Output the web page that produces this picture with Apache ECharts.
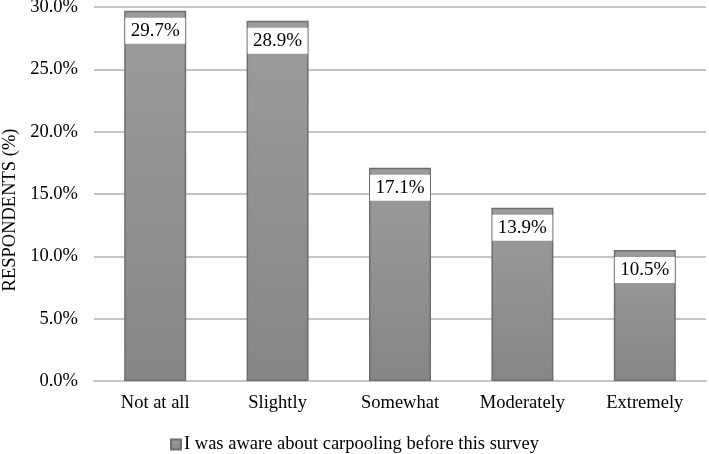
<!DOCTYPE html>
<html>
<head>
<meta charset="utf-8">
<script src="https://cdn.jsdelivr.net/npm/echarts@6/dist/echarts.min.js"></script>
<style>
  html, body { margin: 0; padding: 0; background: #fff; }
  #chart { width: 709px; height: 454px; }
</style>
</head>
<body>
<div id="chart"></div>
<script>
// DATA
let categories = ["Not at all", "Slightly", "Somewhat", "Moderately", "Extremely"];
let awareValues = [29.7, 28.9, 17.1, 13.9, 10.5];
let seriesName = "I was aware about carpooling before this survey";
let yTicks = [0, 5, 10, 15, 20, 25, 30];
let yAxisTitle = "RESPONDENTS (%)";

let chart = echarts.init(document.getElementById("chart"));

const serif = "'Liberation Serif', 'DejaVu Serif', serif";

let option = {
  animation: false,
  textStyle: { fontFamily: serif },
  grid: {
    left: 94,
    right: 3,
    top: 7,
    bottom: 73,
    outerBoundsMode: "none",
    containLabel: false,
  },
  // axis title drawn by hand so it can sit a bit below the plot middle like the original
  graphic: [
    {
      type: "text",
      x: 10,
      y: 210,
      rotation: Math.PI / 2,
      style: {
        text: yAxisTitle,
        fill: "#000",
        font: "18.5px " + serif,
        align: "center",
        verticalAlign: "middle",
      },
    },
  ],
  legend: {
    top: 430,
    left: "center",
    itemWidth: 10,
    itemHeight: 10,
    itemGap: 10,
    icon: "rect",
    textStyle: { fontFamily: serif, fontSize: 18.5, color: "#000", padding: [0, 0, 0, -2] },
    data: [seriesName],
  },
  xAxis: {
    type: "category",
    data: categories,
    axisTick: { show: false },
    axisLine: { lineStyle: { color: "#c4c4c4", width: 2 } },
    axisLabel: {
      color: "#000",
      fontFamily: serif,
      fontSize: 18.5,
      margin: 13,
    },
  },
  yAxis: {
    type: "value",
    min: yTicks[0],
    max: yTicks[yTicks.length - 1],
    interval: 5,
    axisLine: { show: false },
    axisTick: { show: false },
    splitLine: { lineStyle: { color: "#c4c4c4", width: 2 } },
    axisLabel: {
      color: "#000",
      fontFamily: serif,
      fontSize: 18.5,
      margin: 16,
      formatter: (v) => v.toFixed(1) + "%",
    },
  },
  series: [
    {
      name: seriesName,
      type: "bar",
      data: awareValues,
      barWidth: 62,
      itemStyle: {
        color: new echarts.graphic.LinearGradient(0, 0, 0, 1, [
          { offset: 0, color: "#9c9c9c" },
          { offset: 1, color: "#868686" },
        ]),
        borderColor: "#6e6e6e",
        borderWidth: 1.5,
      },
      label: {
        show: true,
        position: "insideTop",
        distance: 7,
        color: "#000",
        fontFamily: serif,
        fontSize: 19,
        backgroundColor: "#fff",
        width: 52,
        align: "center",
        padding: [3, 4, 3, 4],
        lineHeight: 20,
        formatter: (p) => p.value.toFixed(1) + "%",
      },
    },
  ],
};

chart.setOption(option);
</script>
</body>
</html>
